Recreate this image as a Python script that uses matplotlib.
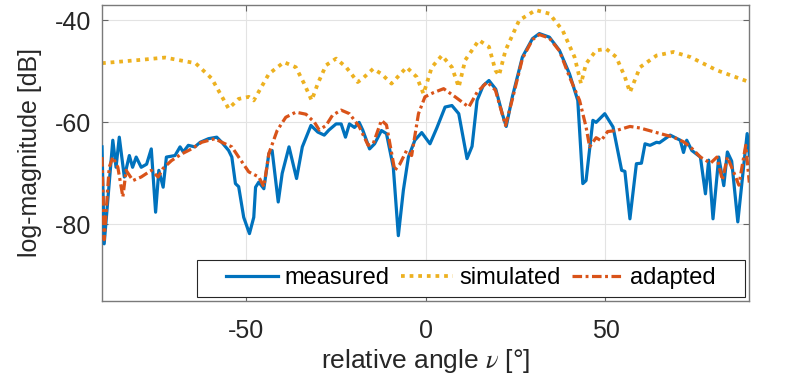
import numpy as np
import matplotlib
matplotlib.use("Agg")
import matplotlib.pyplot as plt
from matplotlib.patches import Rectangle

# pattern cuts (angle in deg, magnitude in dB)
meas_x = [-90, -89.4, -88.4, -87, -86.1, -85.2, -83.8, -82.4, -81.5, -80.5, -79.1, -77.6, -76.3, -75.1,
          -74.2, -73, -72.1, -69.7, -68.3, -67.4, -66, -64.2, -62.7, -60.4, -58.1, -56.7, -54.8, -53.9,
          -52.9, -52, -50.6, -49, -47.8, -47.3, -46.4, -45, -43.6, -42.7, -41, -39.9, -38, -35.9, -34.3,
          -31.9, -30, -28.2, -26.9, -24.9, -23.5, -22.3, -21.2, -19.8, -18.5, -17.5, -15.6, -14.2, -12.3,
          -10.9, -9, -7.6, -6.2, -4.8, -3, -1.1, 1.2, 3.1, 5.4, 7.3, 9.2, 11.5, 12.9, 14.3, 16, 17.6, 19.5,
          21.3, 22.4, 24.1, 26.9, 29.7, 31.6, 34.4, 37.2, 40, 42.3, 43.7, 44.6, 46.5, 47.4, 49.8, 52.1,
          54.5, 55.4, 56.8, 58.6, 60, 61, 62.4, 64.2, 65, 68, 70.8, 71.7, 72.6, 74, 76.4, 77.8, 78.7, 79.9,
          81.5, 82.9, 83.9, 85.1, 86.8, 88.5, 89.4, 90]
meas_y = [-64.8, -83.8, -75.3, -63.5, -68.8, -62.9, -70.7, -66.5, -68.8, -66.8, -68.8, -68.2, -65.2, -77.6,
          -69.4, -72.7, -66.8, -66.5, -64.8, -65.8, -64.5, -64.8, -63.9, -63.2, -62.9, -63.9, -65.5, -66.8,
          -72, -72.6, -78.6, -81.8, -78.6, -72.7, -71.7, -73, -66.1, -65.5, -75.6, -70, -64.8, -71, -64.8,
          -60.6, -61.9, -62.5, -61.5, -60.3, -60.3, -62.9, -60.3, -61, -60, -61.5, -65.2, -64.2, -61.6,
          -62.2, -68.8, -82.2, -73.3, -66.8, -63.5, -62, -64.2, -61.1, -57, -56.7, -58.3, -67.1, -64.7,
          -55.7, -52.8, -51.8, -53.5, -58.3, -60.8, -55, -47.2, -43.6, -42.6, -43.3, -45.9, -50.5, -55.7,
          -72, -71.4, -59.6, -60, -58.3, -60.9, -69.4, -69.6, -78.9, -68.1, -68, -64.2, -64.5, -63.9, -64,
          -62.5, -63.5, -65.9, -63.5, -65.5, -66.8, -74, -67.4, -78.9, -66.8, -72.4, -65.8, -67.6, -79.5,
          -68.1, -62.2, -66.5]

sim_x = [-90, -85, -80, -72.5, -64, -59.5, -57.1, -54.8, -52, -49.2, -47.8, -43.6, -39.4, -36.1, -33.8,
         -31.7, -30, -27.7, -24.9, -22.1, -18.9, -17.5, -14.6, -12.3, -9.5, -5.3, -2.5, -0.6, 1.7, 4.5,
         7.3, 9.2, 11, 14.8, 17.6, 19.4, 20.4, 22.2, 26, 30.6, 34.4, 38.1, 41.4, 43.2, 44.6, 47.4, 50.2,
         53, 55.4, 56.8, 59.6, 64.2, 68.9, 73.6, 81, 90]
sim_y = [-48.4, -48.1, -47.8, -47.3, -48.4, -51.4, -54.4, -57.3, -55.4, -55, -55.7, -50.5, -48.2, -49.2,
         -52.4, -55.7, -52.4, -48.8, -47.5, -49.2, -52.1, -51.4, -49.5, -50.5, -52.4, -49.2, -51.1, -54.4,
         -49.2, -46.9, -49.2, -53.1, -47.8, -43.9, -45.2, -49.8, -50.8, -45.9, -40, -38, -38.7, -42,
         -47.2, -52.4, -48.5, -45.9, -45.6, -47.2, -51.1, -54.1, -49.2, -46.9, -46.2, -47.2, -49.8, -52.1]

adap_x = [-90, -89.4, -88, -87, -85.6, -84.2, -83.3, -81.4, -79.1, -76.3, -74.4, -73, -70.7, -67.9, -65.1,
          -62.3, -58.6, -56.7, -53.9, -52, -49.2, -46.4, -45, -43.6, -41.3, -38.9, -36.1, -33.3, -30.9,
          -29.6, -27.7, -25.9, -23.5, -21.2, -18.5, -16, -14.6, -12.3, -10.9, -8.6, -7.2, -5.3, -3.9, -2,
          -0.2, 2.1, 5, 8.2, 12, 14.3, 17.1, 19.4, 22.2, 24.1, 26.9, 29.7, 31.6, 34.4, 37.2, 40, 42.8,
          44.6, 45.6, 47.4, 48.8, 50.6, 53, 56.8, 59.6, 64.2, 68.9, 71.7, 73.6, 76.4, 79.2, 81, 82.5,
          83.9, 85.8, 87.1, 89, 90]
adap_y = [-66.8, -83, -68.8, -66.8, -68.8, -74.6, -69.4, -71.4, -70.7, -69.4, -70.7, -69, -67.5, -66.2,
          -65.2, -63.9, -63.2, -63.9, -64.8, -66.8, -69.7, -70.7, -72.6, -66.1, -61.6, -59, -58, -58.4,
          -60, -61.5, -60.6, -58.6, -57.6, -58.3, -60.8, -64.5, -64.2, -59.6, -60.5, -69.4, -68.2, -65.5,
          -66.5, -58.3, -55, -54.2, -53.4, -55, -57, -54.1, -52.1, -53.7, -60.6, -55.5, -47.5, -43.8,
          -42.8, -43.5, -46, -51.1, -55.7, -60.9, -64.8, -63, -63.6, -61.8, -61.6, -60.8, -61.1, -62,
          -62.9, -63.8, -64.8, -66.8, -68, -66.8, -71.3, -66.8, -70, -72.3, -64.5, -71.8]

x_ticks = [-50, 0, 50]
y_ticks = [-80, -60, -40]

plt.rcParams['font.family'] = ['Liberation Sans', 'DejaVu Sans']
plt.rcParams['mathtext.fontset'] = 'stix'
plt.rcParams['axes.unicode_minus'] = False
txt = '#262626'

fig = plt.figure(figsize=(7.89, 3.81), dpi=100)
ax = fig.add_axes([0.1293, 0.21, 0.8204, 0.7769])

ax.plot(meas_x, meas_y, color='#0072BD', lw=2.3, label='measured', zorder=3)
ax.plot(sim_x, sim_y, color='#EDB120', lw=2.7, ls=(0, (1, 1.3)), label='simulated', zorder=2)
ax.plot(adap_x, adap_y, color='#D95319', lw=2.3, ls=(0, (3.0, 1.1, 0.9, 1.1)), label='adapted', zorder=4)

ax.set_xlim(-90, 90)
ax.set_ylim(-95, -37)
ax.set_xticks(x_ticks)
ax.set_yticks(y_ticks)
ax.grid(True, color='#e3e3e3', lw=0.8)
ax.set_axisbelow(True)
ax.tick_params(direction='in', top=True, right=True, length=4, width=0.8,
               colors='#666666', labelcolor=txt, labelsize=18)
ax.tick_params(axis='x', pad=13)
ax.tick_params(axis='y', pad=8)
for s in ax.spines.values():
    s.set_color('#7a7a7a')
    s.set_linewidth(1.0)

ax.set_xlabel(r'relative angle $\nu$ [°]', fontsize=19, color=txt, labelpad=3)
ax.set_ylabel('log-magnitude [dB]', fontsize=18, color=txt, labelpad=9)

# legend box drawn separately so it can be wider than the entries (MATLAB style)
box = Rectangle((0.1468, 0.0135), 0.8466, 0.125, transform=ax.transAxes, facecolor='white',
                edgecolor='#262626', lw=0.8, zorder=4.5)
ax.add_patch(box)
leg = ax.legend(ncol=3, loc='center', bbox_to_anchor=(0.5701, 0.076), borderaxespad=0,
                fontsize=17, handlelength=2.2, handletextpad=0.25, columnspacing=0.5,
                frameon=False, borderpad=0.2)
leg.set_zorder(5)
for t in leg.get_texts():
    t.set_color('black')

fig.savefig('out.png', dpi=100)
